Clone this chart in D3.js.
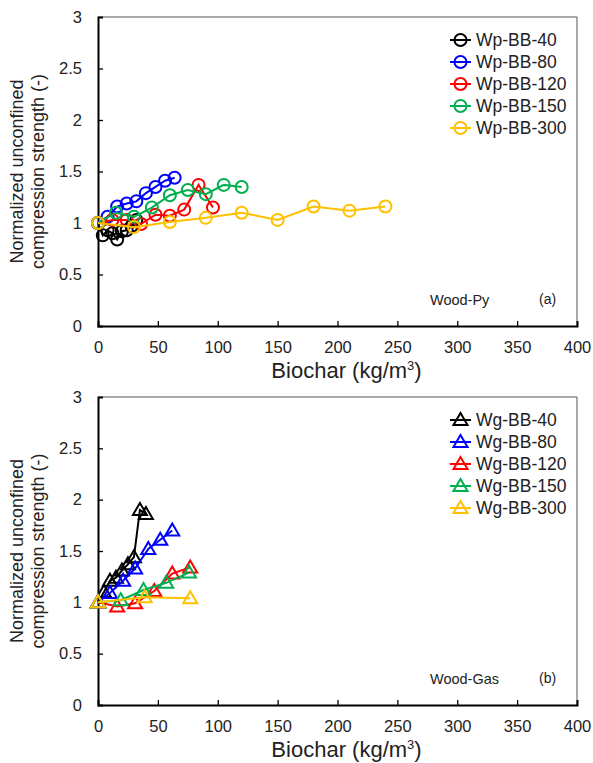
<!DOCTYPE html>
<head>
  <meta charset="utf-8">
  <script src="https://d3js.org/d3.v7.min.js"></script>
  <style>
    body { margin: 0; background: #fff; }
    text { font-family: "Liberation Sans", Arial, sans-serif; }
  </style>
</head>
<body>
  <script>
    // tick values shared by both panels
    var xTicks = [0, 50, 100, 150, 200, 250, 300, 350, 400];
    var yTicks = [0, 0.5, 1, 1.5, 2, 2.5, 3];

    var seriesColors = ["#000000", "#0000ff", "#ff0000", "#00b050", "#ffc000"];

    // panel (a) Wood-Py
    var pyNames = ["Wp-BB-40", "Wp-BB-80", "Wp-BB-120", "Wp-BB-150", "Wp-BB-300"];
    var py40x = [0, 4, 8, 12, 16, 20, 24, 28, 32];
    var py40y = [1, 0.88, 0.93, 0.9, 0.84, 0.92, 0.93, 0.97, 1.03];
    var py80x = [0, 8, 16, 24, 32, 40, 48, 56, 64];
    var py80y = [1, 1.06, 1.16, 1.19, 1.21, 1.29, 1.35, 1.41, 1.44];
    var py120x = [0, 12, 24, 36, 48, 60, 72, 84, 96];
    var py120y = [1, 1.03, 1.03, 0.99, 1.08, 1.07, 1.13, 1.37, 1.15];
    var py150x = [0, 15, 30, 45, 60, 75, 90, 105, 120];
    var py150y = [1, 1.1, 1.06, 1.15, 1.27, 1.32, 1.28, 1.37, 1.35];
    var py300x = [0, 30, 60, 90, 120, 150, 180, 210, 240];
    var py300y = [1, 0.96, 1.01, 1.05, 1.1, 1.03, 1.16, 1.12, 1.16];

    // panel (b) Wood-Gas
    var gasNames = ["Wg-BB-40", "Wg-BB-80", "Wg-BB-120", "Wg-BB-150", "Wg-BB-300"];
    var gas40x = [0, 5, 10, 15, 20, 25, 30, 35, 40];
    var gas40y = [1, 1.1, 1.21, 1.24, 1.31, 1.37, 1.44, 1.9, 1.86];
    var gas80x = [0, 10, 21, 31, 42, 52, 62];
    var gas80y = [1, 1.09, 1.21, 1.33, 1.52, 1.61, 1.7];
    var gas120x = [0, 16, 31, 47, 62, 77];
    var gas120y = [1, 0.96, 0.99, 1.11, 1.28, 1.34];
    var gas150x = [0, 19, 38, 57, 76];
    var gas150y = [1, 1.02, 1.12, 1.19, 1.29];
    var gas300x = [0, 39, 77];
    var gas300y = [1, 1.05, 1.04];

    function zip(xs, ys) {
      return xs.map(function(x, i) { return { x: x, y: ys[i] }; });
    }

    var pySeries = [zip(py40x, py40y), zip(py80x, py80y), zip(py120x, py120y), zip(py150x, py150y), zip(py300x, py300y)];
    var gasSeries = [zip(gas40x, gas40y), zip(gas80x, gas80y), zip(gas120x, gas120y), zip(gas150x, gas150y), zip(gas300x, gas300y)];

    var outerWidth = 593, outerHeight = 763;
    var left = 98, right = 577;

    var svg = d3.select("body").append("svg")
      .attr("width", outerWidth)
      .attr("height", outerHeight);

    var xScale = d3.scaleLinear().domain([0, 400]).range([left, right]);

    function drawPanel(top, bottom, series, names, shape, note, tag) {
      var yScale = d3.scaleLinear().domain([0, 3]).range([bottom, top]);
      var g = svg.append("g");

      // thin top/right frame
      g.append("path")
        .attr("d", "M" + left + "," + top + "H" + right + "V" + bottom)
        .attr("fill", "none")
        .attr("stroke", "#555")
        .attr("stroke-width", 1);

      var yAxis = d3.axisLeft(yScale).tickValues(yTicks).tickSize(-5).tickPadding(16)
        .tickFormat(function(d) { return d; });
      var yG = g.append("g").attr("transform", "translate(" + left + ",0)").call(yAxis);

      var xAxis = d3.axisBottom(xScale).tickValues(xTicks).tickSize(-5).tickPadding(15);
      var xG = g.append("g").attr("transform", "translate(0," + bottom + ")").call(xAxis);

      [yG, xG].forEach(function(a) {
        a.select(".domain").attr("stroke", "#000").attr("stroke-width", 2);
        a.selectAll(".tick line").attr("stroke", "#000").attr("stroke-width", 1.3);
        a.selectAll(".tick text").attr("font-size", 16.5).attr("fill", "#222")
          .style("font-family", "'Liberation Sans', Arial, sans-serif");
      });
      // drop the inside tick at the ends, matching the frame
      yG.selectAll(".tick line").filter(function(d) { return d === 0 || d === 3; }).remove();
      xG.selectAll(".tick line").filter(function(d) { return d === 0 || d === 400; }).remove();

      // axis titles
      var yMid = (top + bottom) / 2;
      g.append("text")
        .attr("transform", "translate(23," + yMid + ") rotate(-90)")
        .attr("text-anchor", "middle")
        .attr("font-size", 18).attr("fill", "#222")
        .text("Normalized unconfined");
      g.append("text")
        .attr("transform", "translate(44," + yMid + ") rotate(-90)")
        .attr("text-anchor", "middle")
        .attr("font-size", 18).attr("fill", "#222")
        .text("compression strength (-)");

      var xt = g.append("text")
        .attr("x", (left + right) / 2 + 9)
        .attr("y", bottom + 52)
        .attr("text-anchor", "middle")
        .attr("font-size", 22).attr("fill", "#222");
      xt.append("tspan").text("Biochar (kg/m");
      xt.append("tspan").attr("font-size", 13).attr("dy", -8).text("3");
      xt.append("tspan").attr("dy", 8).text(")");

      var line = d3.line()
        .x(function(d) { return xScale(d.x); })
        .y(function(d) { return yScale(d.y); });

      function marker(sel, cx, cy, color) {
        if (shape === "circle") {
          sel.append("circle").attr("cx", cx).attr("cy", cy).attr("r", 6)
            .attr("fill", "none").attr("stroke", color).attr("stroke-width", 2);
        } else {
          sel.append("path")
            .attr("d", "M" + cx + "," + (cy - 7) + "L" + (cx + 7) + "," + (cy + 5) + "L" + (cx - 7) + "," + (cy + 5) + "Z")
            .attr("fill", "none").attr("stroke", color).attr("stroke-width", 2);
        }
      }

      series.forEach(function(s, i) {
        var color = seriesColors[i];
        g.append("path").datum(s)
          .attr("d", line)
          .attr("fill", "none")
          .attr("stroke", color)
          .attr("stroke-width", 2);
        var mg = g.append("g");
        s.forEach(function(d) {
          marker(mg, xScale(d.x), yScale(d.y), color);
        });
      });

      // legend
      names.forEach(function(name, i) {
        var ly = top + 23 + i * 22;
        var color = seriesColors[i];
        g.append("line")
          .attr("x1", 450).attr("x2", 471)
          .attr("y1", ly).attr("y2", ly)
          .attr("stroke", color).attr("stroke-width", 2);
        marker(g, 460.5, ly, color);
        g.append("text")
          .attr("x", 476).attr("y", ly + 6)
          .attr("font-size", 17.5).attr("fill", "#222")
          .text(name);
      });

      g.append("text").attr("x", 430).attr("y", bottom - 21)
        .attr("font-size", 14.5).attr("fill", "#222").text(note);
      g.append("text").attr("x", 539).attr("y", bottom - 22)
        .attr("font-size", 14).attr("fill", "#222").text(tag);
    }

    drawPanel(17, 326, pySeries, pyNames, "circle", "Wood-Py", "(a)");
    drawPanel(397, 705, gasSeries, gasNames, "triangle", "Wood-Gas", "(b)");
  </script>
</body>
